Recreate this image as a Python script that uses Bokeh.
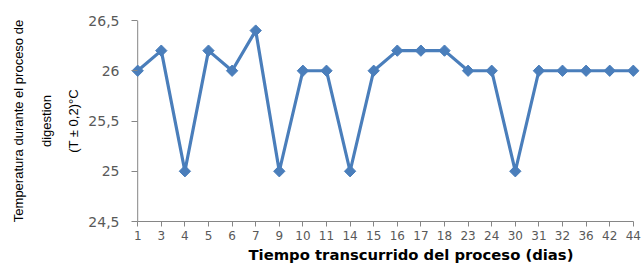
import math
from bokeh.plotting import figure
from bokeh.models import Range1d, FixedTicker, Title, ColumnDataSource, Span
from bokeh.embed import file_html
from bokeh.resources import INLINE

days = ["1", "3", "4", "5", "6", "7", "9", "10", "11", "14", "15", "16", "17",
        "18", "23", "24", "30", "31", "32", "36", "42", "44"]
temperature = [26, 26.2, 25, 26.2, 26, 26.4, 25, 26, 26, 25, 26, 26.2, 26.2,
               26.2, 26, 26, 25, 26, 26, 26, 26, 26]
y_ticks = [24.5, 25, 25.5, 26, 26.5]
y_tick_labels = ["24,5", "25", "25,5", "26", "26,5"]

idx = list(range(len(days)))
src = ColumnDataSource(dict(x=idx, y=temperature, day=days))

pad = 0.2625
p = figure(width=642, height=266, output_backend="svg", toolbar_location=None,
           x_range=Range1d(-pad, len(days) - 1 + pad), y_range=Range1d(24.5, 26.5),
           min_border_left=131, min_border_right=3, min_border_top=20, min_border_bottom=45)
p.outline_line_color = None
p.xgrid.visible = False
p.ygrid.visible = False
p.background_fill_color = "white"
p.border_fill_color = "white"

axis_color = "#868686"
label_color = "#595959"

xa = p.xaxis[0]
xa.ticker = FixedTicker(ticks=idx)
xa.major_label_overrides = {i: d for i, d in zip(idx, days)}
xa.bounds = (0, len(days) - 1)
xa.axis_line_color = axis_color
xa.major_tick_line_color = axis_color
xa.major_tick_in = 0
xa.major_tick_out = 5
xa.minor_tick_line_color = None
xa.major_label_text_font = "DejaVu Sans"
xa.major_label_text_font_size = "12px"
xa.major_label_text_color = label_color
xa.major_label_standoff = 4

ya = p.yaxis[0]
ya.ticker = FixedTicker(ticks=y_ticks)
ya.major_label_overrides = {t: l for t, l in zip(y_ticks, y_tick_labels)}
ya.axis_line_color = None
ya.major_tick_line_color = axis_color
ya.major_tick_in = 6
ya.major_tick_out = 0
ya.minor_tick_line_color = None
ya.major_label_text_font = "DejaVu Sans"
ya.major_label_text_font_size = "14px"
ya.major_label_text_color = label_color
ya.major_label_standoff = 12
ya.axis_label = "Temperatura durante el proceso de\ndigestion\n(T \u00b1 0,2)\u00b0C"
ya.axis_label_text_font = "Liberation Sans"
ya.axis_label_text_font_style = "normal"
ya.axis_label_text_font_size = "13px"
ya.axis_label_text_color = "black"
ya.axis_label_text_line_height = 1.85
ya.axis_label_standoff = 4

p.add_layout(Span(location=0, dimension="height", line_color=axis_color,
                  line_width=1, level="underlay"))

t = Title(text="Tiempo transcurrido del proceso (dias)", align="left", offset=117,
          text_font="DejaVu Sans", text_font_size="14.8px", text_font_style="bold",
          text_color="black", standoff=3)
p.add_layout(t, "below")

line_color = "#4A7EBB"
p.line("x", "y", source=src, line_color=line_color, line_width=3.2)
p.scatter("x", "y", source=src, marker="square", size=8, angle=math.pi / 4,
          fill_color=line_color, line_color=line_color)

open("out.html", "w").write(file_html(p, INLINE))
